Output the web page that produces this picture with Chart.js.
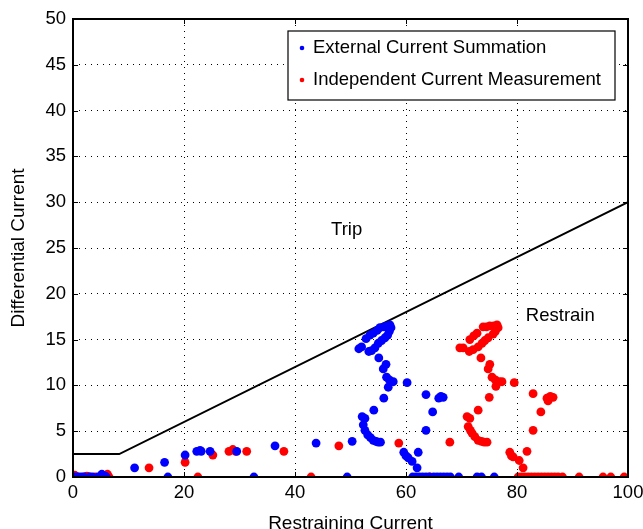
<!DOCTYPE html>
<html>
<head>
<meta charset="utf-8">
<script src="https://cdn.jsdelivr.net/npm/chart.js@4.4.1/dist/chart.umd.min.js"></script>
<style>
  html, body { margin: 0; padding: 0; background: #fff; }
  #wrap { width: 643px; height: 529px; }
</style>
</head>
<body>
<div id="wrap"><canvas id="diffChart" width="643" height="529"></canvas></div>
<script>
// ===== Data =====
const externalSummation = [
  [0,0],[0.5,0],[1,0],[1.5,0],[2,0],[3,0],[3.5,0],[4.5,0],[5.2,0.3],[5.8,0.1],[6,0],
  [11.1,1.0],[16.5,1.6],[17.1,0],[20.2,2.4],[22.3,2.8],[22.9,2.9],[23.1,2.8],[24.7,2.8],
  [29.5,2.8],[32.6,0],[36.4,3.4],[43.8,3.7],[49.4,0],[50.3,3.9],
  [51.5,14.0],[52.0,14.2],[52.8,15.1],[53.5,15.5],[54.1,15.7],[54.8,16.0],[55.3,16.3],
  [56.0,16.4],[56.6,16.5],[57.1,16.6],[57.3,16.3],[57.0,15.9],[56.7,15.5],[56.2,15.2],
  [55.6,14.9],[55.0,14.6],[54.4,14.1],[53.8,13.8],[53.3,13.7],
  [55.1,13.0],[56.4,12.3],[55.9,11.8],[56.5,10.9],[57.0,10.6],[57.7,10.4],[56.8,9.8],
  [56.0,8.6],[54.2,7.3],[52.1,6.6],[52.6,6.4],[52.3,5.7],[52.6,5.1],[53.1,4.6],[53.6,4.3],
  [54.1,4.0],[54.6,3.9],[55.0,3.8],[55.4,3.8],
  [60.2,10.3],[63.6,9.0],[65.9,8.6],[66.3,8.8],[66.7,8.7],[64.8,7.1],[63.6,5.1],
  [59.6,2.7],[60.0,2.3],[60.4,2.1],[61.1,1.7],[62.0,1.0],[62.2,2.7],
  [61.2,0],[61.8,0],[62.4,0],[63.0,0],[63.6,0],[64.2,0],[65.0,0],[65.6,0],[66.2,0],
  [66.8,0],[67.4,0],[68.0,0],[69.5,0],[72.8,0],[73.6,0],[75.9,0]
];

const independentMeasurement = [
  [0,0],[0.3,0.2],[0.8,0],[2,0],[2.5,0.1],[3,0],[4,0],[5,0],[5.7,0.1],[6.2,0.3],[6.5,0],
  [13.7,1.0],[20.2,1.6],[22.5,0],[25.2,2.4],[28.1,2.8],[28.8,3.0],[29.3,2.8],[31.3,2.8],
  [38.0,2.8],[42.9,0],[47.9,3.4],[58.7,3.7],[64.3,0],[67.9,3.8],
  [69.7,14.1],[70.3,14.1],[71.5,15.0],[72.2,15.4],[72.8,15.7],[73.9,16.4],[74.5,16.4],
  [75.1,16.5],[75.8,16.5],[76.4,16.6],[76.6,16.3],[76.1,15.9],[75.7,15.6],[74.8,15.2],
  [74.2,14.9],[73.7,14.6],[73.0,14.2],[72.1,13.9],[71.4,13.7],
  [73.5,13.0],[75.1,12.3],[74.8,11.8],[75.5,10.9],[76.1,10.6],[76.8,10.4],[76.2,9.9],
  [77.3,10.4],[79.5,10.3],[75.0,8.7],[73.0,7.3],[71.0,6.6],[71.5,6.4],[71.2,5.5],[71.6,5.1],
  [71.9,4.8],[72.4,4.4],[73.0,4.0],[73.6,3.9],[74.1,3.8],[74.6,3.8],
  [82.9,9.1],[85.4,8.6],[85.6,8.3],[86.0,8.8],[86.5,8.7],[84.3,7.1],[82.9,5.1],
  [78.7,2.7],[79.0,2.3],[79.3,2.2],[80.4,1.8],[81.8,2.8],[81.1,1.0],
  [80.2,0],[80.8,0],[81.4,0],[82.0,0],[82.6,0],[83.2,0],[83.8,0],[84.4,0],[85.0,0],
  [85.6,0],[86.2,0],[86.8,0],[87.4,0],[88.2,0],[91.2,0],[95.5,0],[96.9,0],[99.3,0]
];

// operating characteristic: flat minimum pickup, then slope
const characteristic = [[0,2.5],[8.33,2.5],[100,30]];

const seriesNames = ["External Current Summation", "Independent Current Measurement"];
const seriesColors = ["#0000ff", "#ff0000"];
const xTicks = [0, 20, 40, 60, 80, 100];
const yTicks = [0, 5, 10, 15, 20, 25, 30, 35, 40, 45, 50];
const regionLabels = [
  { text: "Trip", x: 49.3, y: 27 },
  { text: "Restrain", x: 87.8, y: 17.6 }
];

const FONT = "'Liberation Sans', Arial, Helvetica, sans-serif";
const TEXT_SIZE = 18.5;
const toXY = arr => arr.map(p => ({ x: p[0], y: p[1] }));

// ===== Plugin: box, inward ticks, legend and region text =====
const matlabAxes = {
  id: "matlabAxes",
  afterDatasetsDraw(chart) {
    const { ctx, chartArea: a, scales } = chart;
    ctx.save();

    // inward tick marks on all four sides
    ctx.strokeStyle = "#000";
    ctx.lineWidth = 1;
    const tl = 5;
    ctx.beginPath();
    xTicks.forEach(v => {
      const px = Math.round(scales.x.getPixelForValue(v)) + 0.5;
      ctx.moveTo(px, a.bottom); ctx.lineTo(px, a.bottom - tl);
      ctx.moveTo(px, a.top); ctx.lineTo(px, a.top + tl);
    });
    yTicks.forEach(v => {
      const py = Math.round(scales.y.getPixelForValue(v)) + 0.5;
      ctx.moveTo(a.left, py); ctx.lineTo(a.left + tl, py);
      ctx.moveTo(a.right, py); ctx.lineTo(a.right - tl, py);
    });
    ctx.stroke();

    // axes box
    ctx.lineWidth = 2;
    ctx.strokeRect(a.left, a.top, a.right - a.left, a.bottom - a.top);

    // region labels
    ctx.fillStyle = "#000";
    ctx.font = TEXT_SIZE + "px " + FONT;
    ctx.textAlign = "center";
    ctx.textBaseline = "middle";
    regionLabels.forEach(l => {
      ctx.fillText(l.text, scales.x.getPixelForValue(l.x), scales.y.getPixelForValue(l.y));
    });

    // legend box
    const lx = 288, ly = 31, lw = 327, lh = 69;
    ctx.fillStyle = "#fff";
    ctx.fillRect(lx, ly, lw, lh);
    ctx.lineWidth = 1.2;
    ctx.strokeRect(lx, ly, lw, lh);
    ctx.textAlign = "left";
    seriesNames.forEach((name, i) => {
      const cy = ly + 17 + i * 32;
      ctx.fillStyle = seriesColors[i];
      ctx.beginPath();
      ctx.arc(lx + 14, cy, 2.3, 0, Math.PI * 2);
      ctx.fill();
      ctx.fillStyle = "#000";
      ctx.fillText(name, lx + 25, cy);
    });

    ctx.restore();
  }
};

const tickFont = { family: FONT, size: TEXT_SIZE };
const titleFont = { family: FONT, size: 19 };

new Chart(document.getElementById("diffChart"), {
  type: "scatter",
  data: {
    datasets: [
      {
        label: seriesNames[0],
        data: toXY(externalSummation),
        backgroundColor: seriesColors[0],
        borderWidth: 0,
        pointRadius: 4.4
      },
      {
        label: seriesNames[1],
        data: toXY(independentMeasurement),
        backgroundColor: seriesColors[1],
        borderWidth: 0,
        pointRadius: 4.4
      },
      {
        label: "Characteristic",
        data: toXY(characteristic),
        showLine: true,
        borderColor: "#000",
        borderWidth: 2,
        pointRadius: 0
      }
    ]
  },
  options: {
    responsive: false,
    animation: false,
    layout: { padding: { top: 19, right: 15, left: 0, bottom: 0 } },
    plugins: { legend: { display: false }, tooltip: { enabled: false } },
    scales: {
      x: {
        type: "linear",
        min: 0, max: 100,
        afterBuildTicks: s => { s.ticks = xTicks.map(v => ({ value: v })); },
        afterFit: s => { s.height = 52; s.paddingLeft = 0; s.paddingRight = 0; },
        ticks: { color: "#000", font: tickFont, padding: 5, maxRotation: 0 },
        grid: { color: "#000", lineWidth: 1, drawTicks: false },
        border: { display: false, dash: [1, 5] },
        title: { display: true, text: "Restraining Current", color: "#000", font: titleFont, padding: { top: 0, bottom: -6 } }
      },
      y: {
        type: "linear",
        min: 0, max: 50,
        afterBuildTicks: s => { s.ticks = yTicks.map(v => ({ value: v })); },
        afterFit: s => { s.width = 73; s.paddingTop = 0; s.paddingBottom = 0; },
        ticks: { color: "#000", font: tickFont, padding: 7 },
        grid: { color: "#000", lineWidth: 1, drawTicks: false },
        border: { display: false, dash: [1, 5] },
        title: { display: true, text: "Differential Current", color: "#000", font: titleFont, padding: { top: 7, bottom: 0 } }
      }
    }
  },
  plugins: [matlabAxes]
});
</script>
</body>
</html>
